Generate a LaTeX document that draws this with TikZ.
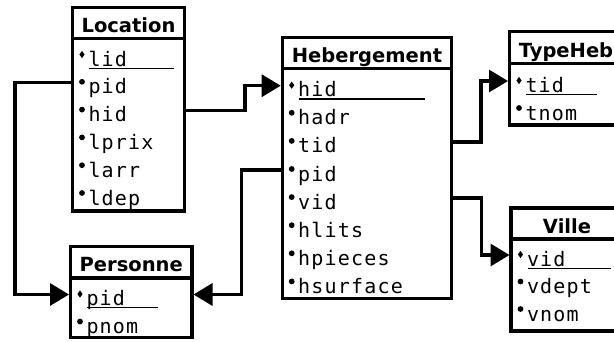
\documentclass[tikz,border=0pt]{standalone}
\usepackage{fontspec}
\setmainfont{DejaVu Sans}
\newfontfamily\attrfont{DejaVu Sans Mono}[LetterSpace=6]
\usetikzlibrary{arrows.meta}

\tikzset{
  tbl/.style={draw, line width=3.3pt, inner sep=0pt, fill=white},
  tabletitle/.style={tbl, font=\fontsize{19.5pt}{24pt}\selectfont\bfseries,
    text height=19pt, text depth=0pt},
  attrrow/.style={inner sep=0pt, outer sep=0pt, anchor=west,
    font={\attrfont\fontsize{20pt}{24pt}\selectfont},
    text height=22pt, text depth=0pt},
  fk/.style={line width=3.3pt, -{Triangle[length=19pt,width=22pt]}},
  keyline/.style={line width=1.3pt},
}

% frame of a table: prefix, left, right, top, title separator, bottom, title
\newcommand\tableframe[7]{%
  \node[tabletitle, minimum width={#3-#2}, minimum height={#5-#4}]
    (#1-title) at ({(#2+#3)/2},{(#4+#5)/2}) {#7};
  \node[tbl, minimum width={#3-#2}, minimum height={#6-#5}]
    (#1-body) at ({(#2+#3)/2},{(#5+#6)/2}) {};
}

% attribute rows: prefix, west x, row width, first baseline, pitch,
% key underline length, attributes (the first one is the key)
\newcommand\attrrows[7]{%
  \foreach \a [count=\k from 0] in {#7} {
    \node[attrrow] (#1-\a) at ({#2},{#4+#5*\k-11})
      {\makebox[#3pt][l]{\hspace*{17.5pt}\a}};
    \ifnum\k=0
      \fill ([xshift=11pt,yshift=0.5pt]#1-\a.west)
        +(0,3.6pt) -- +(2.6pt,0) -- +(0,-3.6pt) -- +(-2.6pt,0) -- cycle;
      \draw[keyline] ([xshift=18pt,yshift=-13.3pt]#1-\a.west) -- +(#6pt,0);
    \else
      \fill ([xshift=11pt,yshift=1pt]#1-\a.west) circle (2.9pt);
    \fi
  }
}

\begin{document}
\begin{tikzpicture}[x=1pt, y=-1pt]
  \useasboundingbox (0,0) rectangle (614,341);
  \clip (0,0) rectangle (614,341);
  \fill[white] (0,0) rectangle (614,341);

  % tables
  \tableframe{loc}{72.5}{184.5}{7.5}{38.5}{211}{Location}
  \attrrows{loc}{71}{115}{66}{27.8}{84.5}{lid,pid,hid,lprix,larr,ldep}

  \tableframe{heb}{282.2}{451.7}{37.5}{68.5}{298.5}{Hebergement}
  \attrrows{heb}{280.7}{172.5}{96.7}{28.1}{126.3}{hid,hadr,tid,pid,vid,hlits,hpieces,hsurface}

  \tableframe{per}{70.5}{192}{246.5}{278}{337.5}{Personne}
  \attrrows{per}{69}{124.5}{305.5}{28}{71}{pid,pnom}

  \tableframe{typ}{509.5}{622.5}{31.5}{63.5}{125}{TypeHeb}
  \attrrows{typ}{508}{116.5}{92}{28}{71}{tid,tnom}

  \tableframe{vil}{511}{623}{208}{239}{331}{Ville}
  \attrrows{vil}{509.5}{115}{266}{27.5}{83.5}{vid,vdept,vnom}

  % bend columns of the foreign key links
  \coordinate (jl) at (15,0);
  \coordinate (jh) at (245,0);
  \coordinate (jp) at (241.5,0);
  \coordinate (jt) at (481,0);
  \coordinate (jv) at (481.5,0);

  % foreign keys
  \draw[fk] (loc-pid.west) -- (loc-pid.west -| jl) |- (per-pid.west);
  \draw[fk] (loc-hid.east) -- (loc-hid.east -| jh) |- (heb-hid.west);
  \draw[fk] (heb-pid.west) -- (heb-pid.west -| jp) |- (per-pid.east);
  \draw[fk] (heb-tid.east) -- (heb-tid.east -| jt) |- (typ-tid.west);
  \draw[fk] (heb-vid.east) -- (heb-vid.east -| jv) |- (vil-vid.west);
\end{tikzpicture}
\end{document}
